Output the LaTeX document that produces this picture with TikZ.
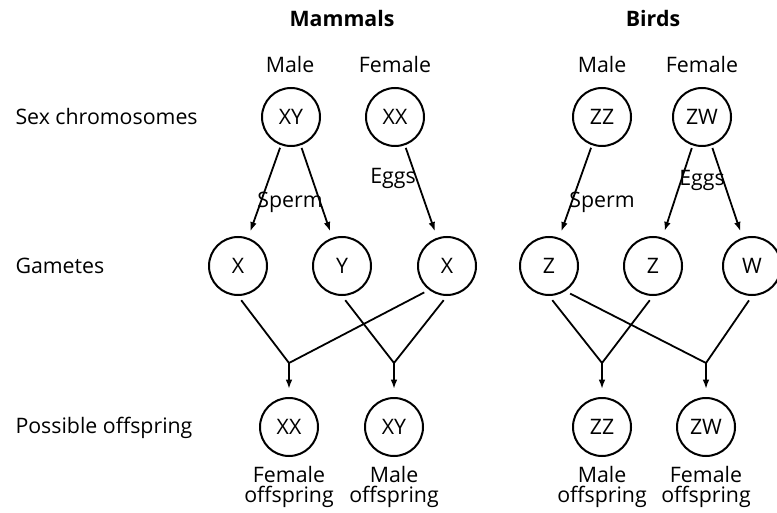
\documentclass[tikz,border=0pt]{standalone}
\usepackage{fontspec}
\setmainfont{Open Sans}
\usepackage{tikz}
\usetikzlibrary{arrows.meta}
\tikzset{every picture/.style={line width=0.75pt}}
\tikzset{
  chrom/.style={circle, draw, line width=1.5pt, minimum size=43.5pt, inner sep=0pt, font=\fontsize{16}{19}\selectfont},
  txt/.style={inner sep=0pt, font=\fontsize{16}{19}\selectfont},
  head/.style={inner sep=0pt, font=\fontsize{16}{19}\selectfont\bfseries},
  arr/.style={-{Latex[length=7pt,width=5pt]}, line width=1.35pt},
  link/.style={line width=1.35pt, shorten <=4pt}
}

\begin{document}
\begin{tikzpicture}[x=0.75pt,y=0.75pt,yscale=-1,xscale=1]
    \useasboundingbox (0,0) rectangle (777,513);
    \node[head] (mammals) at (342,19) {Mammals};
    \node[head] (birds) at (653,19) {Birds};
    \node[txt] (mmale) at (290,65) {Male};
    \node[txt] (mfemale) at (395,65) {Female};
    \node[txt] (bmale) at (602,65) {Male};
    \node[txt] (bfemale) at (702,65) {Female};
    \node[txt, anchor=west] (rowsex) at (15,117) {Sex chromosomes};
    \node[txt, anchor=west] (rowgam) at (15,266) {Gametes};
    \node[txt, anchor=west] (rowoff) at (15,428) {Possible offspring};
    \node[chrom] (mxy) at (291,117) {XY};
    \node[chrom] (mxx) at (395,117) {XX};
    \node[chrom] (bzz) at (602,117) {ZZ};
    \node[chrom] (bzw) at (702,117) {ZW};
    \node[chrom] (gx1) at (238,266) {X};
    \node[chrom] (gy) at (342,266) {Y};
    \node[chrom] (gx2) at (447,266) {X};
    \node[chrom] (gz1) at (549,266) {Z};
    \node[chrom] (gz2) at (653,266) {Z};
    \node[chrom] (gw) at (752,266) {W};
    \node[chrom] (oxx) at (289,427) {XX};
    \node[chrom] (oxy) at (394,427) {XY};
    \node[chrom] (ozz) at (602,427) {ZZ};
    \node[chrom] (ozw) at (706,427) {ZW};
    \coordinate (j1) at (289,363);
    \coordinate (j2) at (394,363);
    \coordinate (j3) at (602,363);
    \coordinate (j4) at (706,363);
    \draw[arr, shorten <=2pt, shorten >=5pt] (mxy) -- (gx1);
    \draw[arr, shorten <=2pt, shorten >=5pt] (mxy) -- (gy);
    \draw[arr, shorten <=2pt, shorten >=5pt] (mxx) -- (gx2);
    \draw[arr, shorten <=2pt, shorten >=5pt] (bzz) -- (gz1);
    \draw[arr, shorten <=2pt, shorten >=5pt] (bzw) -- (gz2);
    \draw[arr, shorten <=2pt, shorten >=5pt] (bzw) -- (gw);
    \node[txt] (msperm) at (290,202) {Sperm};
    \node[txt] (meggs) at (393,178) {Eggs};
    \node[txt] (bsperm) at (602,202) {Sperm};
    \node[txt] (beggs) at (702,180) {Eggs};
    \draw[link] (gx1.south) -- (j1);
    \draw[link] (gx2.-127) -- (j1);
    \draw[link] (gy.south) -- (j2);
    \draw[link] (gx2.south) -- (j2);
    \draw[link] (gz1.south) -- (j3);
    \draw[link] (gz2.south) -- (j3);
    \draw[link] (gz1.-57) -- (j4);
    \draw[link] (gw.south) -- (j4);
    \draw[arr, shorten >=6pt] (j1) -- (oxx);
    \draw[arr, shorten >=6pt] (j2) -- (oxy);
    \draw[arr, shorten >=6pt] (j3) -- (ozz);
    \draw[arr, shorten >=6pt] (j4) -- (ozw);
    \node[txt, align=center, font=\fontsize{16}{15}\selectfont] (offxx) at (289,487) {Female\\offspring};
    \node[txt, align=center, font=\fontsize{16}{15}\selectfont] (offxy) at (394,487) {Male\\offspring};
    \node[txt, align=center, font=\fontsize{16}{15}\selectfont] (offzz) at (602,487) {Male\\offspring};
    \node[txt, align=center, font=\fontsize{16}{15}\selectfont] (offzw) at (706,487) {Female\\offspring};
\end{tikzpicture}
\end{document}
